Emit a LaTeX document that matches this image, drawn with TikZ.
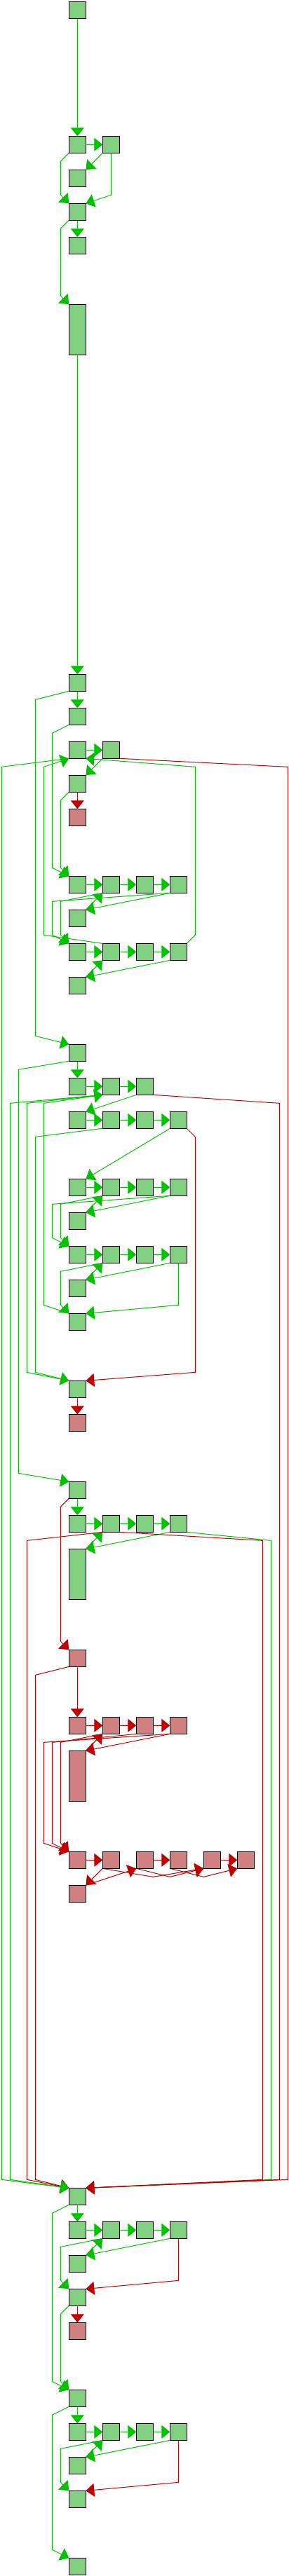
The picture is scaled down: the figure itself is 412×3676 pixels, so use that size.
\documentclass[tikz,border=0pt]{standalone}
\usetikzlibrary{arrows.meta}
\pgfdeclarelayer{bg}
\pgfsetlayers{bg,main}
\definecolor{gfill}{RGB}{128,208,128}
\definecolor{rfill}{RGB}{208,128,128}
\definecolor{gedge}{RGB}{0,192,0}
\definecolor{redge}{RGB}{192,0,0}
\newcommand\mkG[2]{\node[gbox] (n#1c#2) at ({98.33+48*#2},{2.33+48*#1}) {};}
\newcommand\mkR[2]{\node[rbox] (n#1c#2) at ({98.33+48*#2},{2.33+48*#1}) {};}
\begin{document}
\begin{tikzpicture}[x=1pt,y=-1pt,
  box/.style={draw=black,line width=1pt,minimum width=24pt,minimum height=24pt,inner sep=0pt,outer sep=0pt,anchor=north west},
  gbox/.style={box,fill=gfill},
  rbox/.style={box,fill=rfill},
  tall/.style={minimum height=72pt},
  ge/.style={draw=gedge,line width=1pt,-{Triangle[length=12pt,width=19pt]}},
  re/.style={draw=redge,line width=1pt,-{Triangle[length=12pt,width=19pt]}}]
\useasboundingbox (0,0) rectangle (412,3676);
% ---------------- nodes ----------------
\mkG{0}{0}
\mkG{4}{0}\mkG{4}{1}
\mkG{5}{0}
\mkG{6}{0}
\mkG{7}{0}
\node[gbox,tall] (n9c0) at (98.33,434.33) {};
\mkG{20}{0}
\mkG{21}{0}
\mkG{22}{0}\mkG{22}{1}
\mkG{23}{0}
\mkR{24}{0}
\mkG{26}{0}\mkG{26}{1}\mkG{26}{2}\mkG{26}{3}
\mkG{27}{0}
\mkG{28}{0}\mkG{28}{1}\mkG{28}{2}\mkG{28}{3}
\mkG{29}{0}
\mkG{31}{0}
\mkG{32}{0}\mkG{32}{1}\mkG{32}{2}
\mkG{33}{0}\mkG{33}{1}\mkG{33}{2}\mkG{33}{3}
\mkG{35}{0}\mkG{35}{1}\mkG{35}{2}\mkG{35}{3}
\mkG{36}{0}
\mkG{37}{0}\mkG{37}{1}\mkG{37}{2}\mkG{37}{3}
\mkG{38}{0}
\mkG{39}{0}
\mkG{41}{0}
\mkR{42}{0}
\mkG{44}{0}
\mkG{45}{0}\mkG{45}{1}\mkG{45}{2}\mkG{45}{3}
\node[gbox,tall] (n46c0) at (98.33,2210.33) {};
\mkR{49}{0}
\mkR{51}{0}\mkR{51}{1}\mkR{51}{2}\mkR{51}{3}
\node[rbox,tall] (n52c0) at (98.33,2498.33) {};
\mkR{55}{0}\mkR{55}{1}\mkR{55}{2}\mkR{55}{3}\mkR{55}{4}\mkR{55}{5}
\mkR{56}{0}
\mkG{65}{0}
\mkG{66}{0}\mkG{66}{1}\mkG{66}{2}\mkG{66}{3}
\mkG{67}{0}
\mkG{68}{0}
\mkR{69}{0}
\mkG{71}{0}
\mkG{72}{0}\mkG{72}{1}\mkG{72}{2}\mkG{72}{3}
\mkG{73}{0}
\mkG{74}{0}
\mkG{76}{0}
% ---------------- edges ----------------
\begin{pgfonlayer}{bg}
\fill[white] (0,0) rectangle (412,3676);
% zone 1
\draw[ge] (n0c0.south) -- (n4c0.north);
\draw[ge] (n4c0.east) -- (n4c1.west);
\draw[ge] (n4c0.south west) -- (86.33,230.33) -- (86.33,278.33) -- (n6c0.north west);
\draw[ge] (n4c1.south west) -- (n5c0.north east);
\draw[ge] (n4c1.south) -- (158.33,278.33) -- (n6c0.north east);
\draw[ge] (n6c0.south) -- (n7c0.north);
\draw[ge] (n6c0.south west) -- (86.33,326.33) -- (86.33,422.33) -- (n9c0.north west);
\draw[ge] (n9c0.south) -- (n20c0.north);
% zone 2
\draw[ge] (n20c0.south) -- (n21c0.north);
\draw[ge] (n20c0.south west) -- (50.33,998.33) -- (50.33,1478.33) -- (n31c0.north west);
\draw[ge] (n21c0.south west) -- (74.33,1046.33) -- (74.33,1238.33) -- (n26c0.north west);
\draw[ge] (n22c0.east) -- (n22c1.west);
\draw[ge] (n22c1.south west) -- (n23c0.north east);
\draw[re] (n23c0.south) -- (n24c0.north);
\draw[ge] (n23c0.south west) -- (86.33,1142.33) -- (86.33,1238.33) -- (n26c0.north west);
\draw[ge] (n28c3.north east) -- (278.33,1334.33) -- (278.33,1094.33) -- (n22c0.south east);
\draw[ge] (n28c1.north west) -- (62.33,1334.33) -- (62.33,1094.33) -- (n22c0.south west);
\draw[ge] (n26c0.east) -- (n26c1.west);
\draw[ge] (n26c1.east) -- (n26c2.west);
\draw[ge] (n26c2.east) -- (n26c3.west);
\draw[ge] (n26c3.south west) -- (n27c0.north east);
\draw[ge] (n27c0.north east) -- (n26c1.south west);
\draw[ge] (n26c1.south west) -- (86.33,1286.33) -- (86.33,1334.33) -- (n28c0.north west);
\draw[ge] (n26c3.south west) -- (74.33,1286.33) -- (74.33,1334.33) -- (n28c0.north west);
\draw[ge] (n28c0.east) -- (n28c1.west);
\draw[ge] (n28c1.east) -- (n28c2.west);
\draw[ge] (n28c2.east) -- (n28c3.west);
\draw[ge] (n28c3.south west) -- (n29c0.north east);
\draw[ge] (n29c0.north east) -- (n28c1.south west);
% zone 3
\draw[ge] (n31c0.south) -- (n32c0.north);
\draw[ge] (n31c0.south west) -- (26.33,1526.33) -- (26.33,2102.33) -- (n44c0.north west);
\draw[ge] (n32c0.east) -- (n32c1.west);
\draw[ge] (n32c1.east) -- (n32c2.west);
\draw[ge] (n32c2.south west) -- (n33c0.north east);
\draw[ge] (n41c0.north west) -- (38.33,1958.33) -- (38.33,1574.33) -- (n32c1.south west);
\draw[ge] (n39c0.north west) -- (62.33,1862.33) -- (62.33,1574.33) -- (n32c1.south west);
\draw[ge] (n33c0.east) -- (n33c1.west);
\draw[ge] (n33c1.east) -- (n33c2.west);
\draw[ge] (n33c2.east) -- (n33c3.west);
\draw[ge] (n33c1.south west) -- (50.33,1622.33) -- (50.33,1958.33) -- (n41c0.north west);
\draw[ge] (n33c3.south west) -- (n35c0.north east);
\draw[re] (n33c3.south east) -- (278.33,1622.33) -- (278.33,1958.33) -- (n41c0.north east);
\draw[ge] (n35c0.east) -- (n35c1.west);
\draw[ge] (n35c1.east) -- (n35c2.west);
\draw[ge] (n35c2.east) -- (n35c3.west);
\draw[ge] (n35c3.south west) -- (n36c0.north east);
\draw[ge] (n36c0.north east) -- (n35c1.south west);
\draw[ge] (n35c1.south west) -- (86.33,1718.33) -- (86.33,1766.33) -- (n37c0.north west);
\draw[ge] (n35c3.south west) -- (74.33,1718.33) -- (74.33,1766.33) -- (n37c0.north west);
\draw[ge] (n37c0.east) -- (n37c1.west);
\draw[ge] (n37c1.east) -- (n37c2.west);
\draw[ge] (n37c2.east) -- (n37c3.west);
\draw[ge] (n37c3.south west) -- (n38c0.north east);
\draw[ge] (n38c0.north east) -- (n37c1.south west);
\draw[ge] (n37c1.south west) -- (86.33,1814.33) -- (86.33,1862.33) -- (n39c0.north west);
\draw[ge] (n37c3.south) -- (254.33,1862.33) -- (n39c0.north east);
\draw[re] (n41c0.south) -- (n42c0.north);
% zone 4
\draw[ge] (n44c0.south) -- (n45c0.north);
\draw[re] (n44c0.south west) -- (86.33,2150.33) -- (86.33,2342.33) -- (n49c0.north west);
\draw[ge] (n45c0.east) -- (n45c1.west);
\draw[ge] (n45c1.east) -- (n45c2.west);
\draw[ge] (n45c2.east) -- (n45c3.west);
\draw[ge] (n45c3.south west) -- (n46c0.north east);
\draw[ge] (n46c0.north east) -- (n45c1.south west);
\draw[re] (n49c0.south) -- (n51c0.north);
\draw[re] (n51c0.east) -- (n51c1.west);
\draw[re] (n51c1.east) -- (n51c2.west);
\draw[re] (n51c2.east) -- (n51c3.west);
\draw[re] (n51c3.south west) -- (n52c0.north east);
\draw[re] (n52c0.north east) -- (n51c1.south west);
\draw[re] (n51c1.south west) -- (86.33,2486.33) -- (86.33,2630.33) -- (n55c0.north west);
\draw[re] (n51c2.south west) -- (74.33,2486.33) -- (74.33,2630.33) -- (n55c0.north west);
\draw[re] (n51c3.south west) -- (62.33,2486.33) -- (62.33,2630.33) -- (n55c0.north west);
\draw[re] (n55c0.east) -- (n55c1.west);
\draw[re] (n55c2.east) -- (n55c3.west);
\draw[re] (n55c4.east) -- (n55c5.west);
\draw[re] (n55c1.south west) -- (n56c0.north east);
\draw[re] (n56c0.north east) -- (n55c2.south west);
\draw[re] (n55c1.south west) -- (218.33,2678.33) -- (n55c4.south west);
\draw[re] (n55c2.south west) -- (242.33,2678.33) -- (n55c4.south west);
\draw[re] (n55c3.south west) -- (290.33,2678.33) -- (n55c5.south west);
% long edges into n65c0
\draw[re] (n45c1.south west) -- (38.33,2198.33) -- (38.33,3110.33) -- (n65c0.north west);
\draw[re] (n49c0.south west) -- (50.33,2390.33) -- (50.33,3110.33) -- (n65c0.north west);
\draw[ge] (n22c0.south west) -- (2.33,1094.33) -- (2.33,3110.33) -- (n65c0.north west);
\draw[ge] (n32c1.south west) -- (14.33,1574.33) -- (14.33,3110.33) -- (n65c0.north west);
\draw[ge] (n45c3.south east) -- (386.33,2198.33) -- (386.33,3110.33) -- (n65c0.north east);
\draw[re] (n45c1.south east) -- (374.33,2198.33) -- (374.33,3110.33) -- (n65c0.north east);
\draw[re] (n32c2.south east) -- (398.33,1574.33) -- (398.33,3110.33) -- (n65c0.north east);
\draw[re] (n22c1.south east) -- (410.33,1094.33) -- (410.33,3110.33) -- (n65c0.north east);
% zone 5
\draw[ge] (n65c0.south) -- (n66c0.north);
\draw[ge] (n65c0.south west) -- (74.33,3158.33) -- (74.33,3398.33) -- (n71c0.north west);
\draw[ge] (n66c0.east) -- (n66c1.west);
\draw[ge] (n66c1.east) -- (n66c2.west);
\draw[ge] (n66c2.east) -- (n66c3.west);
\draw[ge] (n66c3.south west) -- (n67c0.north east);
\draw[ge] (n67c0.north east) -- (n66c1.south west);
\draw[ge] (n66c1.south west) -- (86.33,3206.33) -- (86.33,3254.33) -- (n68c0.north west);
\draw[re] (n66c3.south) -- (254.33,3254.33) -- (n68c0.north east);
\draw[re] (n68c0.south) -- (n69c0.north);
\draw[ge] (n68c0.south west) -- (86.33,3302.33) -- (86.33,3398.33) -- (n71c0.north west);
\draw[ge] (n71c0.south) -- (n72c0.north);
\draw[ge] (n71c0.south west) -- (74.33,3446.33) -- (74.33,3638.33) -- (n76c0.north west);
\draw[ge] (n72c0.east) -- (n72c1.west);
\draw[ge] (n72c1.east) -- (n72c2.west);
\draw[ge] (n72c2.east) -- (n72c3.west);
\draw[ge] (n72c3.south west) -- (n73c0.north east);
\draw[ge] (n73c0.north east) -- (n72c1.south west);
\draw[ge] (n72c1.south west) -- (86.33,3494.33) -- (86.33,3542.33) -- (n74c0.north west);
\draw[re] (n72c3.south) -- (254.33,3542.33) -- (n74c0.north east);
\end{pgfonlayer}
\end{tikzpicture}
\end{document}
